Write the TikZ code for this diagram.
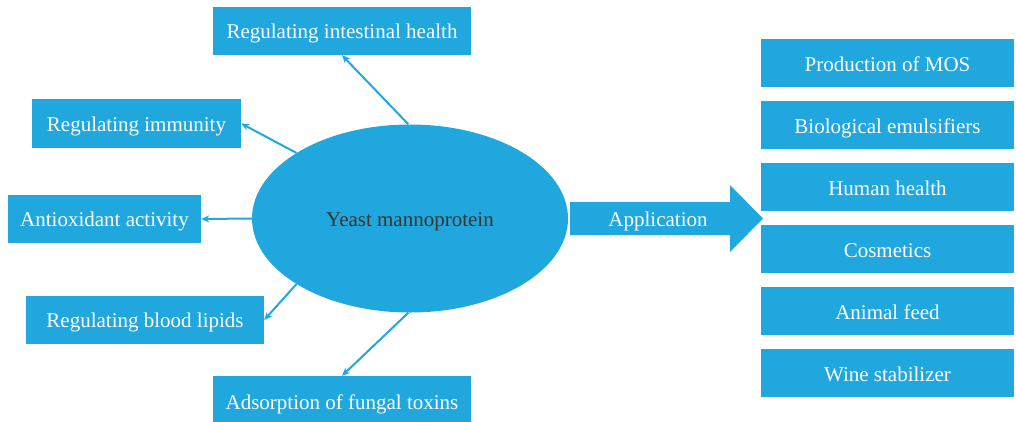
\documentclass[tikz,border=0pt]{standalone}
\usepackage{fontspec}
\setmainfont{Liberation Serif}
\usetikzlibrary{arrows.meta,shapes.geometric}
\definecolor{blu}{RGB}{32,167,222}
\definecolor{dtext}{RGB}{58,52,52}
\tikzset{
  txt/.style={font=\fontsize{21}{24}\selectfont,text height=15pt,text depth=0pt},
  box/.style={txt,fill=blu,draw=none,text=white,inner sep=0pt},
  rbox/.style={box,text height=17.5pt,minimum width=253pt,minimum height=48pt},
  conn/.style={draw=blu,line width=2pt,-{Stealth[length=8pt,width=7pt]}}
}
\begin{document}
\begin{tikzpicture}[x=1pt,y=-1pt]
\useasboundingbox (0,0) rectangle (1016,421);
% center ellipse
\node[ellipse,fill=blu,minimum width=316pt,minimum height=188pt,inner sep=0pt,text=dtext,txt] (ell) at (410,218.5) {Yeast mannoprotein};
% left boxes
\node[box,minimum width=258pt,minimum height=48pt] (int) at (342,31) {Regulating intestinal health};
\node[box,minimum width=209pt,minimum height=49pt] (imm) at (136.5,123.5) {Regulating immunity};
\node[box,minimum width=193pt,minimum height=48pt] (ant) at (104.5,219) {Antioxidant activity};
\node[box,minimum width=238pt,minimum height=48pt] (bl) at (145,320) {Regulating blood lipids};
\node[box,minimum width=258pt,minimum height=52pt] (ads) at (342,402) {Adsorption of fungal toxins};
% connectors
\draw[conn] (ell.91) -- (int.south);
\draw[conn] (ell.150) -- (imm.east);
\draw[conn] (ell.180) -- (ant.east);
\draw[conn] (ell.210) -- (bl.east);
\draw[conn] (ell.269) -- (ads.north);
% big arrow
\fill[blu] (570,202) -- (730,202) -- (730,185) -- (763,218.5) -- (730,252) -- (730,235) -- (570,235) -- cycle;
\node[text=white,txt,inner sep=0pt] (app) at (658,218.5) {Application};
% right boxes
\foreach \t [count=\i] in {Production of MOS,Biological emulsifiers,Human health,Cosmetics,Animal feed,Wine stabilizer}{
  \node[rbox] (r\i) at (887.5,{63+62*(\i-1)}) {\t};
}
\end{tikzpicture}
\end{document}
